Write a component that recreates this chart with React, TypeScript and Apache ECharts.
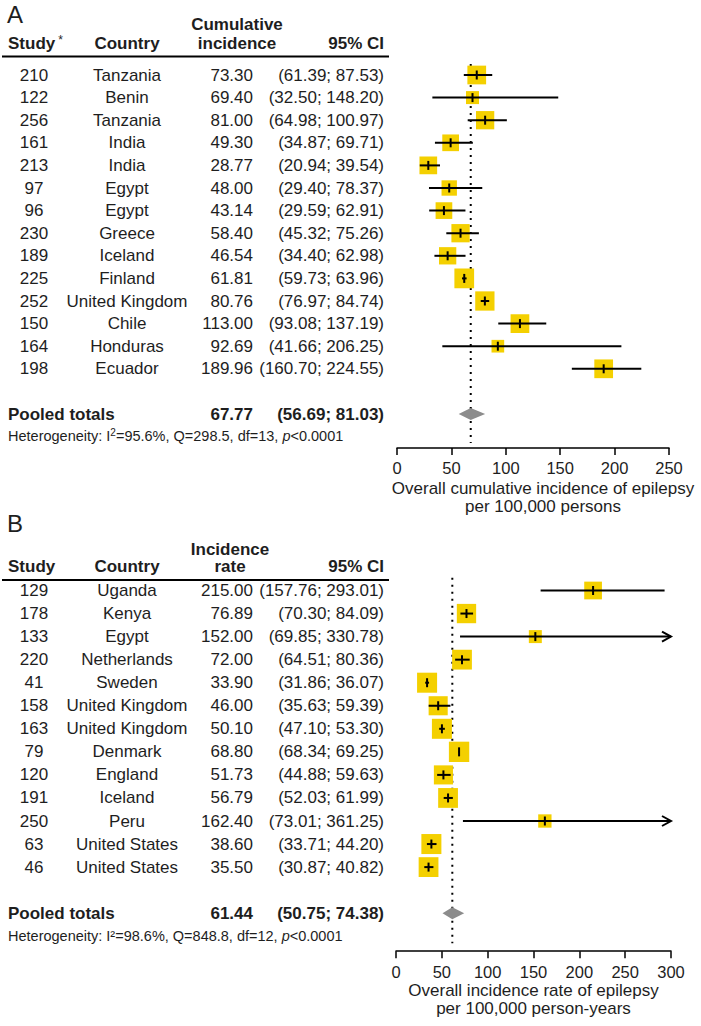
import React, { useEffect, useRef } from "react";
import * as echarts from "echarts";

// ---------- Panel A data ----------
const studiesA = ["210", "122", "256", "161", "213", "97", "96", "230", "189", "225", "252", "150", "164", "198"];
const countriesA = ["Tanzania", "Benin", "Tanzania", "India", "India", "Egypt", "Egypt", "Greece", "Iceland", "Finland", "United Kingdom", "Chile", "Honduras", "Ecuador"];
const estA = [73.3, 69.4, 81.0, 49.3, 28.77, 48.0, 43.14, 58.4, 46.54, 61.81, 80.76, 113.0, 92.69, 189.96];
const lowA = [61.39, 32.5, 64.98, 34.87, 20.94, 29.4, 29.59, 45.32, 34.4, 59.73, 76.97, 93.08, 41.66, 160.7];
const highA = [87.53, 148.2, 100.97, 69.71, 39.54, 78.37, 62.91, 75.26, 62.98, 63.96, 84.74, 137.19, 206.25, 224.55];
const weightsA = [8.3, 4.0, 7.9, 6.6, 7.4, 5.6, 6.6, 7.9, 7.1, 9.2, 8.8, 8.3, 3.8, 8.3];
const pooledA = [67.77, 56.69, 81.03];
const hetA = ["95.6%", "298.5", "13", "<0.0001"];
const ticksA = [0, 50, 100, 150, 200, 250];

// ---------- Panel B data ----------
const studiesB = ["129", "178", "133", "220", "41", "158", "163", "79", "120", "191", "250", "63", "46"];
const countriesB = ["Uganda", "Kenya", "Egypt", "Netherlands", "Sweden", "United Kingdom", "United Kingdom", "Denmark", "England", "Iceland", "Peru", "United States", "United States"];
const estB = [215.0, 76.89, 152.0, 72.0, 33.9, 46.0, 50.1, 68.8, 51.73, 56.79, 162.4, 38.6, 35.5];
const lowB = [157.76, 70.3, 69.85, 64.51, 31.86, 35.63, 47.1, 68.34, 44.88, 52.03, 73.01, 33.71, 30.87];
const highB = [293.01, 84.09, 330.78, 80.36, 36.07, 59.39, 53.3, 69.25, 59.63, 61.99, 361.25, 44.2, 40.82];
const weightsB = [6.9, 8.2, 3.7, 8.6, 8.8, 8.0, 8.8, 9.1, 8.0, 8.6, 3.9, 8.8, 8.6];
const pooledB = [61.44, 50.75, 74.38];
const hetB = ["98.6%", "848.8", "12", "<0.0001"];
const ticksB = [0, 50, 100, 150, 200, 250, 300];

const FONT = '"Liberation Sans", Arial, Helvetica, sans-serif';
const TXT = "#1e1e1e";
const YELLOW = "#F4D000";
const GREY = "#8c8c8c";
const FS = 17;
const FS_AXIS = 16.5;

const fmt = (v: number) => v.toFixed(2);
const ci = (lo: number, hi: number) => `(${fmt(lo)}; ${fmt(hi)})`;

// column positions (px)
const X_STUDY = 34;
const X_COUNTRY = 127;
const X_EST = 253;
const X_CI = 384;

function txt(text: string, x: number, y: number, align: string, bold = false, size = FS) {
  return {
    type: "text",
    x,
    y,
    style: {
      text,
      align,
      verticalAlign: "middle",
      fill: TXT,
      fontSize: size,
      fontFamily: FONT,
      fontWeight: bold ? "bold" : "normal",
    },
  };
}

function tableSeries(idx: number, studies: string[], countries: string[], est: number[], lo: number[], hi: number[]) {
  return {
    type: "custom",
    xAxisIndex: idx,
    yAxisIndex: idx,
    silent: true,
    clip: false,
    data: studies.map((_, i) => [0, i]),
    encode: { x: 0, y: 1 },
    renderItem: (params: any, api: any) => {
      const i = params.dataIndex;
      const y = api.coord([0, i])[1];
      return {
        type: "group",
        children: [
          txt(studies[i], X_STUDY, y, "center"),
          txt(countries[i], X_COUNTRY, y, "center"),
          txt(fmt(est[i]), X_EST, y, "right"),
          txt(ci(lo[i], hi[i]), X_CI, y, "right"),
        ],
      };
    },
    z: 5,
  };
}

function forestSeries(idx: number, est: number[], lo: number[], hi: number[], w: number[], k: number, xMax: number) {
  return {
    type: "custom",
    xAxisIndex: idx,
    yAxisIndex: idx,
    silent: true,
    clip: false,
    data: est.map((v, i) => [v, i]),
    encode: { x: 0, y: 1 },
    renderItem: (params: any, api: any) => {
      const i = params.dataIndex;
      const [cx, cy] = api.coord([est[i], i]);
      const xl = api.coord([lo[i], i])[0];
      const xh = api.coord([Math.min(hi[i], xMax), i])[0];
      const s = k * Math.sqrt(w[i]);
      const children: any[] = [
        { type: "rect", shape: { x: cx - s / 2, y: cy - s / 2, width: s, height: s }, style: { fill: YELLOW } },
        { type: "line", shape: { x1: xl, y1: cy, x2: xh, y2: cy }, style: { stroke: "#000", lineWidth: 2 } },
        { type: "line", shape: { x1: cx, y1: cy - 4.5, x2: cx, y2: cy + 4.5 }, style: { stroke: "#000", lineWidth: 2 } },
      ];
      if (hi[i] > xMax) {
        children.push({
          type: "polyline",
          shape: { points: [[xh - 9, cy - 5], [xh, cy], [xh - 9, cy + 5]] },
          style: { stroke: "#000", lineWidth: 2, fill: "none" },
        });
      }
      return { type: "group", children };
    },
    z: 4,
  };
}

function pooledSeries(idx: number, pooled: number[], row: number, het: string[], richSup: boolean, dotTop: number, dotBottom: number) {
  return {
    type: "custom",
    xAxisIndex: idx,
    yAxisIndex: idx,
    silent: true,
    clip: false,
    data: [[pooled[0], row]],
    encode: { x: 0, y: 1 },
    renderItem: (params: any, api: any) => {
      const [cx, cy] = api.coord([pooled[0], row]);
      const xl = api.coord([pooled[1], row])[0];
      const xh = api.coord([pooled[2], row])[0];
      const yt = api.coord([pooled[0], dotTop])[1];
      const yb = api.coord([pooled[0], dotBottom])[1];
      const yh = api.coord([0, row + 0.97])[1];
      const h = 6;
      const hetText = richSup
        ? `{n|Heterogeneity: I}{s|2}{n|=${het[0]}, Q=${het[1]}, df=${het[2]}, }{i|p}{n|${het[3]}}`
        : `{n|Heterogeneity: I²=${het[0]}, Q=${het[1]}, df=${het[2]}, }{i|p}{n|${het[3]}}`;
      return {
        type: "group",
        children: [
          {
            type: "line",
            shape: { x1: cx, y1: yt, x2: cx, y2: yb },
            style: { stroke: "#000", lineWidth: 2, lineDash: [2, 5] },
          },
          {
            type: "polygon",
            shape: { points: [[xl, cy], [cx, cy - h], [xh, cy], [cx, cy + h]] },
            style: { fill: GREY },
          },
          txt("Pooled totals", 8, cy, "left", true),
          txt(fmt(pooled[0]), X_EST, cy, "right", true),
          txt(ci(pooled[1], pooled[2]), X_CI, cy, "right", true),
          {
            type: "text",
            x: 8,
            y: yh,
            style: {
              text: hetText,
              align: "left",
              verticalAlign: "middle",
              fill: TXT,
              rich: {
                n: { fontSize: 14.5, fontFamily: FONT, fill: TXT },
                i: { fontSize: 14.5, fontFamily: FONT, fill: TXT, fontStyle: "italic" },
                s: { fontSize: 10, fontFamily: FONT, fill: TXT, verticalAlign: "top", padding: [0, 0, 6, 0] },
              },
            },
          },
        ],
      };
    },
    z: 3,
  };
}

function xAxis(idx: number, ticks: number[], name: string, nameGap: number, namePadLeft: number) {
  return {
    gridIndex: idx,
    type: "value",
    min: ticks[0],
    max: ticks[ticks.length - 1],
    interval: ticks[1] - ticks[0],
    axisLine: { show: true, onZero: false, lineStyle: { color: "#000", width: 1.5 } },
    axisTick: { show: true, length: 7, lineStyle: { color: "#000", width: 1.5 } },
    axisLabel: { margin: 12, fontSize: FS_AXIS, color: TXT, fontFamily: FONT },
    splitLine: { show: false },
    name,
    nameLocation: "middle",
    nameGap,
    nameTextStyle: { fontSize: FS, color: TXT, fontFamily: FONT, lineHeight: 18, padding: [0, 0, 0, namePadLeft] },
  };
}

// row geometry
const A_ROW0 = 75;
const A_STEP = 22.6;
const A_MIN = -1;
const A_MAX = 16.5;
const B_ROW0 = 590.5;
const B_STEP = 23.05;
const B_MIN = -1;
const B_MAX = 15.65;

export default function App() {
  const ref = useRef<HTMLDivElement>(null);
  useEffect(() => {
    if (!ref.current) return;
    const chart = echarts.init(ref.current, undefined, { renderer: "svg" });
    const option: any = {
      animation: false,
      backgroundColor: "#fff",
      grid: [
        { left: 397, width: 272, top: A_ROW0 + A_MIN * A_STEP, height: (A_MAX - A_MIN) * A_STEP },
        { left: 396, width: 275, top: B_ROW0 + B_MIN * B_STEP, height: (B_MAX - B_MIN) * B_STEP },
      ],
      xAxis: [
        xAxis(0, ticksA, "Overall cumulative incidence of epilepsy\nper 100,000 persons", 32, 20),
        xAxis(1, ticksB, "Overall incidence rate of epilepsy\nper 100,000 person-years", 30, 0),
      ],
      yAxis: [
        { gridIndex: 0, type: "value", min: A_MIN, max: A_MAX, inverse: true, show: false },
        { gridIndex: 1, type: "value", min: B_MIN, max: B_MAX, inverse: true, show: false },
      ],
      series: [
        forestSeries(0, estA, lowA, highA, weightsA, 6.5, 250),
        tableSeries(0, studiesA, countriesA, estA, lowA, highA),
        pooledSeries(0, pooledA, 15, hetA, true, -0.49, 16.28),
        forestSeries(1, estB, lowB, highB, weightsB, 6.75, 300),
        tableSeries(1, studiesB, countriesB, estB, lowB, highB),
        pooledSeries(1, pooledB, 14, hetB, false, -0.55, 15.3),
      ],
      graphic: [
        // Panel A header
        txt("A", 7, 14, "left", false, 24),
        txt("Cumulative", 237, 24, "center", true),
        {
          type: "text",
          x: 8,
          y: 43,
          style: {
            text: "{a|Study}{b|*}",
            align: "left",
            verticalAlign: "middle",
            rich: {
              a: { fontSize: FS, fontWeight: "bold", fontFamily: FONT, fill: TXT },
              b: { fontSize: 12, fontFamily: FONT, fill: TXT, verticalAlign: "top", padding: [0, 0, 6, 3] },
            },
          },
        },
        txt("Country", X_COUNTRY, 43, "center", true),
        txt("incidence", 237, 43, "center", true),
        txt("95% CI", X_CI, 43, "right", true),
        { type: "line", shape: { x1: 2, y1: 56.5, x2: 389, y2: 56.5 }, style: { stroke: "#000", lineWidth: 2 } },
        // Panel B header
        txt("B", 7, 523, "left", false, 24),
        txt("Incidence", 230, 549, "center", true),
        txt("Study", 8, 566, "left", true),
        txt("Country", X_COUNTRY, 566, "center", true),
        txt("rate", 230, 566, "center", true),
        txt("95% CI", X_CI, 566, "right", true),
        { type: "line", shape: { x1: 2, y1: 580, x2: 389, y2: 580 }, style: { stroke: "#000", lineWidth: 2 } },
      ],
    };
    chart.setOption(option);
    return () => chart.dispose();
  }, []);
  return (
    <div
      ref={ref}
      style={{ position: "absolute", left: 0, top: 0, width: 701, height: 1026, background: "#fff" }}
    />
  );
}
